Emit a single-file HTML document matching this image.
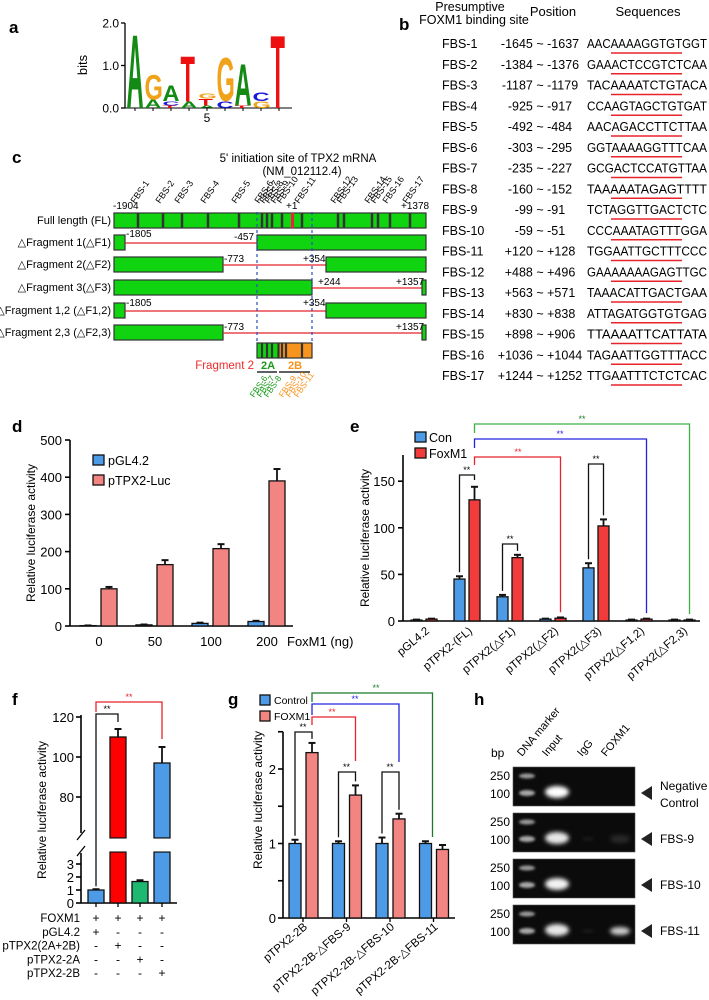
<!DOCTYPE html>
<html><head><meta charset="utf-8"><style>
html,body{margin:0;padding:0;background:#fff}
svg{display:block;font-family:"Liberation Sans",Arial,sans-serif}
</style></head><body>
<svg id="fig" width="709" height="1000" viewBox="0 0 709 1000">
<defs>
<filter id="blur2" x="-50%" y="-50%" width="200%" height="200%"><feGaussianBlur stdDeviation="2"/></filter>
<filter id="blur1" x="-50%" y="-50%" width="200%" height="200%"><feGaussianBlur stdDeviation="1.2"/></filter>
</defs>
</svg>
<script>
// ---------- data ----------
const dCats = ['0','50','100','200'];
const dPgl = [1, 3, 7, 12];
const dPgE = [0.5, 1, 2, 2];
const dTpx = [100, 165, 208, 390];
const dTpE = [5, 12, 12, 32];
const dTicks = [0,100,200,300,400,500];

const eCats = ['pGL4.2','pTPX2-(FL)','pTPX2(△F1)','pTPX2(△F2)','pTPX2(△F3)','pTPX2(△F1,2)','pTPX2(△F2,3)'];
const eCon = [1, 45, 26, 2, 57, 1, 1];
const eConE = [0.5, 3, 2, 0.5, 5, 0.5, 0.5];
const eFox = [2, 130, 68, 3, 102, 2, 1];
const eFoxE = [0.5, 14, 3, 0.8, 7, 0.5, 0.5];
const eTicks = [0,50,100,150];

const fVals = [1, 110, 1.65, 97];
const fErr = [0.06, 4, 0.1, 8];
const fTicksUp = [80,100,120];
const fTicksLow = [0,1,2,3];

const gCats = ['pTPX2-2B','pTPX2-2B-△FBS-9','pTPX2-2B-△FBS-10','pTPX2-2B-△FBS-11'];
const gCon = [1, 1, 1, 1];
const gConE = [0.05, 0.03, 0.08, 0.03];
const gFox = [2.22, 1.65, 1.33, 0.92];
const gFoxE = [0.13, 0.13, 0.07, 0.06];
const gTicks = [0,0.5,1,1.5,2,2.5];

const fbsNames = ['FBS-1','FBS-2','FBS-3','FBS-4','FBS-5','FBS-6','FBS-7','FBS-8','FBS-9','FBS-10','FBS-11','FBS-12','FBS-13','FBS-14','FBS-15','FBS-16','FBS-17'];
const fbsPos = ['-1645 ~ -1637','-1384 ~ -1376','-1187 ~ -1179','-925 ~ -917','-492 ~ -484','-303 ~ -295','-235 ~ -227','-160 ~ -152','-99 ~ -91','-59 ~ -51','+120 ~ +128','+488 ~ +496','+563 ~ +571','+830 ~ +838','+898 ~ +906','+1036 ~ +1044','+1244 ~ +1252'];
const fbsSeq = ['AACAAAAGGTGTGGT','GAAACTCCGTCTCAA','TACAAAATCTGTACA','CCAAGTAGCTGTGAT','AACAGACCTTCTTAA','GGTAAAAGGTTTCAA','GCGACTCCATGTTAA','TAAAAATAGAGTTTT','TCTAGGTTGACTCTC','CCCAAATAGTTTGGA','TGGAATTGCTTTCCC','GAAAAAAAGAGTTGC','TAAACATTGACTGAA','ATTAGATGGTGTGAG','TTAAAATTCATTATA','TAGAATTGGTTTACC','TTGAATTTCTCTCAC'];

// ---------- helpers ----------
const NS='http://www.w3.org/2000/svg';
const svg=document.getElementById('fig');
function mk(tag, attrs, name, parent){
  const el=document.createElementNS(NS,tag);
  for(const k in attrs) el.setAttribute(k, attrs[k]);
  
  
  (parent||svg).appendChild(el);
  return el;
}
function txt(x,y,s,name,o){
  o=o||{};
  const a={x:x,y:y,'font-size':o.fs||12,fill:o.fill||'#000'};
  if(o.anchor) a['text-anchor']=o.anchor;
  if(o.bold) a['font-weight']='bold';
  if(o.italic) a['font-style']='italic';
  if(o.len){ a.textLength=o.len; a.lengthAdjust='spacingAndGlyphs'; }
  if(o.rot!==undefined) a.transform='rotate('+o.rot+' '+x+' '+y+')';
  const t=mk('text',a,name);
  t.textContent=s;
  return t;
}
function line(x1,y1,x2,y2,name,c,w,dash){
  const a={x1:x1,y1:y1,x2:x2,y2:y2,stroke:c||'#000','stroke-width':w||1.5};
  if(dash) a['stroke-dasharray']=dash;
  return mk('line',a,name);
}
function poly(pts,name,c,w){
  return mk('polyline',{points:pts.map(p=>p.join(',')).join(' '),fill:'none',stroke:c,'stroke-width':w||1.3},name);
}
function bar(x,y0,y1,w,fill,name){
  return mk('rect',{x:x,y:Math.min(y0,y1),width:w,height:Math.abs(y1-y0),fill:fill,stroke:'#111','stroke-width':1.3},name);
}
function err(cx,yTop,yErr,name){
  line(cx,yTop,cx,yErr,name,'#111',1.8);
  line(cx-3.5,yErr,cx+3.5,yErr,name+'-cap','#111',2);
}
const BLUE='#4d9be6', SALMON='#f28482', RED='#f23c3c';

// ---------- panel labels ----------
[['a',9,33],['b',399,30],['c',12,163],['d',12,432],['e',350,432],['f',12,705],['g',228,705],['h',474,705]].forEach(p=>{
  txt(p[1],p[2],p[0],'panel-label-'+p[0],{fs:17,bold:true});
});

// ---------- panel a: logo ----------
(function(){
  const y0=108, ppb=42.5;
  line(125,23,125,108,'logo-y-axis','#000',1.3);
  [[0,'0.0'],[1,'1.0'],[2,'2.0']].forEach(t=>{
    const y=y0-t[0]*ppb;
    line(121,y,125,y,'logo-y-tick','#000',1.3);
    txt(119,y+4.5,t[1],'logo-y-tick-label',{fs:12,anchor:'end'});
  });
  txt(87,65,'bits','logo-y-axis-title',{fs:13,anchor:'middle',rot:-90});
  line(125,108,292,108,'logo-x-axis','#000',1);
  const cols=[
    [['A',1.78]],
    [['A',0.2],['G',0.6]],
    [['T',0.06],['C',0.1],['A',0.38]],
    [['A',0.15],['T',1.1]],
    [['A',0.06],['T',0.16],['G',0.13]],
    [['C',0.16],['G',1.05]],
    [['T',0.06],['A',1.0]],
    [['G',0.16],['C',0.2]],
    [['T',1.76]]
  ];
  const col={A:'#138a13',G:'#f0a21a',T:'#ee1010',C:'#1a1adc'};
  cols.forEach((stack,i)=>{
    const cx=135+i*18;
    line(cx,108,cx,111,'logo-x-tick','#000',1);
    let y=y0;
    stack.forEach(l=>{
      const h=l[1]*ppb, w=17;
      const sx=w/7.2, sy=h/7.2;
      const t=mk('text',{x:0,y:0,'font-size':10,'font-weight':'bold',fill:col[l[0]],
        transform:'translate('+(cx-w/2)+','+y+') scale('+sx+','+sy+')'},'logo-letter-'+l[0]);
      t.textContent=l[0];
      y-=h;
    });
  });
  txt(207,122,'5','logo-x-tick-label',{fs:12,anchor:'middle'});
})();

// ---------- panel b: table ----------
(function(){
  txt(470,11,'Presumptive','table-header-site-1',{fs:12.5,anchor:'middle'});
  txt(474,24,'FOXM1 binding site','table-header-site-2',{fs:12.5,anchor:'middle'});
  txt(553,16,'Position','table-header-position',{fs:13,anchor:'middle'});
  txt(648,16,'Sequences','table-header-sequences',{fs:13,anchor:'middle'});
  fbsNames.forEach((n,i)=>{
    const y=48+i*20.75;
    txt(442,y,n,'fbs-name',{fs:12.5});
    txt(540,y,fbsPos[i],'fbs-position',{fs:12.5,anchor:'middle'});
    txt(587,y,fbsSeq[i],'fbs-sequence',{fs:12.5,len:120});
    line(611,y+5,682,y+5,'fbs-underline','#e8232a',1.5);
  });
})();

// ---------- panel c: constructs ----------
(function(){
  txt(298,162,"5' initiation site of TPX2 mRNA",'tss-title',{fs:11.5,anchor:'middle'});
  txt(302,175,'(NM_012112.4)','tss-accession',{fs:11.5,anchor:'middle'});
  const rows=[['Full length (FL)',213],['△Fragment 1(△F1)',235],['△Fragment 2(△F2)',257],['△Fragment 3(△F3)',280],['△Fragment 1,2 (△F1,2)',303],['△Fragment 2,3 (△F2,3)',325]];
  rows.forEach(r=>txt(111,r[1]+11,r[0],'construct-label',{fs:11,anchor:'end'}));
  const G='#11d411';
  function gb(x1,x2,y){mk('rect',{x:x1,y:y,width:x2-x1,height:15,fill:G,stroke:'#333','stroke-width':1.2},'construct-segment');}
  function rl(x1,x2,y){line(x1,y+8,x2,y+8,'deleted-region','#e8232a',1.3);}
  gb(114,426,213);
  [138,163,182,208,239,262,267,272,282,302,338,344,372,378,390,410].forEach(x=>line(x,213,x,228,'fbs-marker','#333',2.5));
  mk('rect',{x:291,y:213,width:3,height:15,fill:'#e8233a'},'tss-marker');
  const fl=[['FBS-1',138],['FBS-2',163],['FBS-3',182],['FBS-4',208],['FBS-5',239],['FBS-6',262],['FBS-7',267],['FBS-8',272],['FBS-9',278],['FBS-10',284],['FBS-11',302],['FBS-12',338],['FBS-13',344],['FBS-14',372],['FBS-15',378],['FBS-16',390],['FBS-17',410]];
  fl.forEach(f=>txt(f[1]-3,204,f[0],'fbs-site-label',{fs:9,rot:-55}));
  txt(113,209,'-1904','coord-label',{fs:10});
  txt(286,209,'+1','coord-label',{fs:10});
  txt(401,209,'+1378','coord-label',{fs:10});
  gb(114,125,235); rl(125,257,235); gb(257,426,235);
  txt(126,237,'-1805','coord-label',{fs:10}); txt(234,240,'-457','coord-label',{fs:10});
  gb(114,223,257); rl(223,326,257); gb(326,426,257);
  txt(224,262,'-773','coord-label',{fs:10}); txt(303,262,'+354','coord-label',{fs:10});
  gb(114,312,280); rl(312,422,280); gb(422,426,280);
  txt(318,285,'+244','coord-label',{fs:10}); txt(396,285,'+1357','coord-label',{fs:10});
  gb(114,125,303); rl(125,326,303); gb(326,426,303);
  txt(126,306,'-1805','coord-label',{fs:10}); txt(303,306,'+354','coord-label',{fs:10});
  gb(114,223,325); rl(223,422,325); gb(422,426,325);
  txt(224,330,'-773','coord-label',{fs:10}); txt(396,330,'+1357','coord-label',{fs:10});
  line(257,212,257,342,'fragment2-boundary','#2a4fb8',1.2,'3,3');
  line(312,212,312,342,'fragment2-boundary','#2a4fb8',1.2,'3,3');
  mk('rect',{x:257,y:343,width:21,height:15,fill:G,stroke:'#333','stroke-width':1.2},'fragment-2a');
  mk('rect',{x:279,y:343,width:33,height:15,fill:'#f7941d',stroke:'#333','stroke-width':1.2},'fragment-2b');
  [262,267,272,282,286,302].forEach(x=>line(x,343,x,358,'fragment-fbs-marker','#333',2.2));
  txt(254,369,'Fragment 2','fragment2-label',{fs:11.5,fill:'#ee2a2a',anchor:'end'});
  txt(268,369,'2A','fragment-2a-label',{fs:11,bold:true,fill:'#1a9a1a',anchor:'middle'});
  txt(295,369,'2B','fragment-2b-label',{fs:11,bold:true,fill:'#f7941d',anchor:'middle'});
  line(257,372,277,372,'fragment-2a-bar','#000',1.2); line(279,372,310,372,'fragment-2b-bar','#000',1.2);
  [['FBS-6',254,'#1a9a1a'],['FBS-7',261,'#1a9a1a'],['FBS-8',268,'#1a9a1a'],['FBS-9',283,'#f7941d'],['FBS-10',290,'#f7941d'],['FBS-11',298,'#f7941d']].forEach(f=>{
    txt(f[1],398,f[0],'fragment-fbs-label',{fs:8.5,fill:f[2],rot:-55});
  });
})();

// ---------- panel d ----------
(function(){
  const yD=v=>626-v*0.372;
  const cx=i=>99+i*56;
  line(70,yD(500),70,626,'d-y-axis','#000',1.6);
  line(70,626,293,626,'d-x-axis','#000',1.6);
  dTicks.forEach(t=>{ line(65,yD(t),70,yD(t),'d-y-tick','#000',1.6); txt(62,yD(t)+5,String(t),'d-y-tick-label',{fs:13,anchor:'end'}); });
  txt(35,533,'Relative luciferase activity','d-y-axis-title',{fs:12,anchor:'middle',rot:-90});
  dCats.forEach((c,i)=>{
    const x=cx(i);
    err(x-11,yD(dPgl[i]),yD(dPgl[i]+dPgE[i]),'d-error-pgl');
    bar(x-19,626,yD(dPgl[i]),16,BLUE,'d-bar-pgl4.2');
    err(x+10,yD(dTpx[i]),yD(dTpx[i]+dTpE[i]),'d-error-ptpx2');
    bar(x+2,626,yD(dTpx[i]),16,SALMON,'d-bar-ptpx2-luc');
    txt(x,646,c,'d-x-tick-label',{fs:13,anchor:'middle'});
  });
  txt(287,646,'FoxM1 (ng)','d-x-axis-title',{fs:13});
  mk('rect',{x:93,y:455,width:11,height:10,fill:BLUE,stroke:'#111','stroke-width':1.3},'d-legend-swatch-pgl4.2');
  txt(108,465,'pGL4.2','d-legend-label-pgl4.2',{fs:12.5});
  mk('rect',{x:93,y:475,width:11,height:10,fill:SALMON,stroke:'#111','stroke-width':1.3},'d-legend-swatch-ptpx2');
  txt(108,485,'pTPX2-Luc','d-legend-label-ptpx2',{fs:12.5});
})();

// ---------- panel e ----------
(function(){
  const yE=v=>621-v*0.932;
  const cx=i=>424+i*43;
  line(403,455,403,621,'e-y-axis','#000',1.6);
  line(403,621,700,621,'e-x-axis','#000',1.6);
  eTicks.forEach(t=>{ line(398,yE(t),403,yE(t),'e-y-tick','#000',1.6); txt(395,yE(t)+5,String(t),'e-y-tick-label',{fs:13,anchor:'end'}); });
  txt(369,538,'Relative luciferase activity','e-y-axis-title',{fs:12,anchor:'middle',rot:-90});
  eCats.forEach((c,i)=>{
    const x=cx(i);
    err(x-7.5,yE(eCon[i]),yE(eCon[i]+eConE[i]),'e-error-con');
    bar(x-13,621,yE(eCon[i]),11,BLUE,'e-bar-con');
    err(x+7.5,yE(eFox[i]),yE(eFox[i]+eFoxE[i]),'e-error-foxm1');
    bar(x+2,621,yE(eFox[i]),11,RED,'e-bar-foxm1');
    txt(x+6,632,c,'e-x-tick-label',{fs:11.5,anchor:'end',rot:-40});
  });
  mk('rect',{x:415,y:432,width:11,height:10,fill:BLUE,stroke:'#111','stroke-width':1.3},'e-legend-swatch-con');
  txt(429,442,'Con','e-legend-label-con',{fs:12.5});
  mk('rect',{x:415,y:448,width:11,height:10,fill:RED,stroke:'#111','stroke-width':1.3},'e-legend-swatch-foxm1');
  txt(429,458,'FoxM1','e-legend-label-foxm1',{fs:12.5});
  const fx=cx(1)+7.5;
  poly([[cx(1)-7.5,yE(eCon[1]+eConE[1])-4],[cx(1)-7.5,475],[fx,475],[fx,480]],'e-bracket-fl','#111');
  txt((cx(1)+fx)/2-4,473,'**','e-sig-fl',{fs:9,anchor:'middle'});
  poly([[cx(2)-7.5,yE(eCon[2]+eConE[2])-4],[cx(2)-7.5,544],[cx(2)+7.5,544],[cx(2)+7.5,yE(eFox[2]+eFoxE[2])-4]],'e-bracket-f1','#111');
  txt(cx(2),542,'**','e-sig-f1',{fs:9,anchor:'middle'});
  poly([[cx(4)-7.5,yE(eCon[4]+eConE[4])-4],[cx(4)-7.5,464],[cx(4)+7.5,464],[cx(4)+7.5,yE(eFox[4]+eFoxE[4])-4]],'e-bracket-f3','#111');
  txt(cx(4),462,'**','e-sig-f3',{fs:9,anchor:'middle'});
  poly([[fx,465],[fx,457],[cx(3)+7.5,457],[cx(3)+7.5,yE(eFox[3])-6]],'e-bracket-f2','#e8232a');
  txt(518,455,'**','e-sig-f2',{fs:9,anchor:'middle',fill:'#e8232a'});
  poly([[fx,448],[fx,439],[cx(5)+7.5,439],[cx(5)+7.5,yE(eFox[5])-6]],'e-bracket-f12','#2424e0');
  txt(560,437,'**','e-sig-f12',{fs:9,anchor:'middle',fill:'#2424e0'});
  poly([[fx,433],[fx,424],[cx(6)+7.5,424],[cx(6)+7.5,yE(eFox[6])-6]],'e-bracket-f23','#3cb043');
  txt(582,422,'**','e-sig-f23',{fs:9,anchor:'middle',fill:'#1a7a2a'});
})();

// ---------- panel f ----------
(function(){
  const yU=v=>717+(120-v)*2;
  const yL=v=>903-v*13;
  const cols=[BLUE,'#ff0000','#1fb870',BLUE];
  const cx=i=>96+i*22;
  line(81,715,81,833,'f-y-axis-upper','#000',1.6);
  line(81,853,81,903,'f-y-axis-lower','#000',1.6);
  line(77,840,85,830,'f-axis-break','#000',1.3); line(77,856,85,846,'f-axis-break','#000',1.3);
  line(81,903,177,903,'f-x-axis','#000',1.6);
  fTicksUp.forEach(t=>{ line(76,yU(t),81,yU(t),'f-y-tick','#000',1.6); txt(74,yU(t)+5,String(t),'f-y-tick-label',{fs:13,anchor:'end'}); });
  fTicksLow.forEach(t=>{ line(76,yL(t),81,yL(t),'f-y-tick','#000',1.6); txt(74,yL(t)+5,String(t),'f-y-tick-label',{fs:13,anchor:'end'}); });
  txt(46,810,'Relative luciferase activity','f-y-axis-title',{fs:12,anchor:'middle',rot:-90});
  fVals.forEach((v,i)=>{
    const x=cx(i);
    if(v>3){
      err(x,yU(v),yU(v+fErr[i]),'f-error');
      mk('rect',{x:x-8,y:yU(v),width:16,height:838-yU(v),fill:cols[i],stroke:'#111','stroke-width':1.3},'f-bar-upper');
      mk('rect',{x:x-8,y:852,width:16,height:51,fill:cols[i],stroke:'#111','stroke-width':1.3},'f-bar-lower');
      mk('rect',{x:x-9,y:838.7,width:18,height:12.6,fill:'#fff'},'f-bar-break-gap');
    } else {
      err(x,yL(v),yL(v+fErr[i]),'f-error');
      bar(x-8,903,yL(v),16,cols[i],'f-bar');
    }
    line(x,903,x,907,'f-x-tick','#000',1.3);
  });
  const labs=['FOXM1','pGL4.2','pTPX2(2A+2B)','pTPX2-2A','pTPX2-2B'];
  const signs=[['+','+','+','+'],['+','-','-','-'],['-','+','-','-'],['-','-','+','-'],['-','-','-','+']];
  labs.forEach((l,r)=>{
    const y=922+r*13.8;
    txt(80,y,l,'f-condition-label',{fs:11.5,anchor:'end'});
    signs[r].forEach((s,i)=>txt(cx(i),y,s,'f-condition-sign',{fs:12,anchor:'middle'}));
  });
  poly([[cx(0),yL(fVals[0]+fErr[0])-3],[cx(0),714],[cx(1),714],[cx(1),722]],'f-bracket-black','#111');
  txt(107,712,'**','f-sig-black',{fs:9,anchor:'middle'});
  poly([[cx(0),712],[cx(0),702],[cx(3),702],[cx(3),739]],'f-bracket-red','#e8232a');
  txt(129,700,'**','f-sig-red',{fs:9,anchor:'middle',fill:'#e8232a'});
})();

// ---------- panel g ----------
(function(){
  const yG=v=>918-v*74.5;
  const cx=i=>303+i*43.5;
  line(283,yG(2.5),283,918,'g-y-axis','#000',1.6);
  line(283,918,455,918,'g-x-axis','#000',1.6);
  gTicks.forEach(t=>{
    line(278,yG(t),283,yG(t),'g-y-tick','#000',1.6);
    if(Number.isInteger(t)) txt(276,yG(t)+5,String(t),'g-y-tick-label',{fs:13,anchor:'end'});
  });
  txt(262,800,'Relative luciferase activity','g-y-axis-title',{fs:12,anchor:'middle',rot:-90});
  gCats.forEach((c,i)=>{
    const x=cx(i);
    err(x-8,yG(gCon[i]),yG(gCon[i]+gConE[i]),'g-error-control');
    bar(x-14,918,yG(gCon[i]),12,BLUE,'g-bar-control');
    err(x+9,yG(gFox[i]),yG(gFox[i]+gFoxE[i]),'g-error-foxm1');
    bar(x+3,918,yG(gFox[i]),12,SALMON,'g-bar-foxm1');
    line(x,918,x,922,'g-x-tick','#000',1.3);
    txt(x+5,928,c,'g-x-tick-label',{fs:11.5,anchor:'end',rot:-40});
  });
  mk('rect',{x:260,y:695,width:10,height:10,fill:BLUE,stroke:'#111','stroke-width':1.3},'g-legend-swatch-control');
  txt(274,704,'Control','g-legend-label-control',{fs:10.5});
  mk('rect',{x:260,y:711,width:10,height:10,fill:SALMON,stroke:'#111','stroke-width':1.3},'g-legend-swatch-foxm1');
  txt(274,720,'FOXM1','g-legend-label-foxm1',{fs:10.5});
  const fx=cx(0)+9;
  [0,1,2].forEach(i=>{
    const top=i===0?732:772;
    poly([[cx(i)-8,yG(gCon[i]+gConE[i])-4],[cx(i)-8,top],[cx(i)+9,top],[cx(i)+9,yG(gFox[i]+gFoxE[i])-4]],'g-bracket-black','#111');
    txt(cx(i),top-2,'**','g-sig-black',{fs:9,anchor:'middle'});
  });
  poly([[fx,725],[fx,717],[cx(1)+9,717],[cx(1)+9,761]],'g-bracket-red','#e8232a');
  txt(332,715,'**','g-sig-red',{fs:9,anchor:'middle',fill:'#e8232a'});
  poly([[fx,715],[fx,704],[cx(2)+9,704],[cx(2)+9,762]],'g-bracket-blue','#2424e0');
  txt(355,702,'**','g-sig-blue',{fs:9,anchor:'middle',fill:'#2424e0'});
  poly([[fx,702],[fx,693],[cx(3)-1,693],[cx(3)-1,837]],'g-bracket-green','#1a7a2a');
  txt(376,691,'**','g-sig-green',{fs:9,anchor:'middle',fill:'#1a7a2a'});
})();

// ---------- panel h: gels ----------
(function(){
  txt(491,757,'bp','h-bp-label',{fs:12});
  [['DNA marker',522],['Input',547],['IgG',582],['FOXM1',606]].forEach(c=>{
    txt(c[1],757,c[0],'h-lane-header',{fs:11,rot:-50});
  });
  const gels=[[767,'Negative','Control',[1,0,0]],[813,'FBS-9',null,[0.9,0.05,0.12]],[859,'FBS-10',null,[0.95,0,0]],[905,'FBS-11',null,[0.9,0.05,0.8]]];
  gels.forEach((g,k)=>{
    const y=g[0];
    mk('rect',{x:513,y:y,width:122,height:39,fill:'#0b0b0b',stroke:'#555','stroke-width':0.6},'gel-image');
    const b1=y+9, b2=y+26;
    mk('ellipse',{cx:527,cy:b1,rx:8,ry:2.5,fill:'#9a9a9a',filter:'url(#blur1)'},'gel-marker-band-250');
    mk('ellipse',{cx:527,cy:b2,rx:8,ry:3,fill:'#a8a8a8',filter:'url(#blur1)'},'gel-marker-band-100');
    const iv=g[3];
    mk('ellipse',{cx:557,cy:b2-1,rx:12,ry:6,fill:'rgb(255,255,255)','fill-opacity':iv[0],filter:'url(#blur2)'},'gel-input-band');
    if(iv[1]>0) mk('ellipse',{cx:588,cy:b2,rx:6,ry:2,fill:'#fff','fill-opacity':iv[1],filter:'url(#blur1)'},'gel-igg-band');
    if(iv[2]>0) mk('ellipse',{cx:620,cy:b2,rx:10,ry:4,fill:'#fff','fill-opacity':iv[2],filter:'url(#blur2)'},'gel-foxm1-band');
    txt(510,y+13,'250','h-size-250',{fs:12,anchor:'end'});
    txt(510,y+31,'100','h-size-100',{fs:12,anchor:'end'});
    mk('polygon',{points:'641,'+b2+' 652,'+(b2-7)+' 652,'+(b2+7),fill:'#222'},'h-arrow');
    if(g[2]){
      txt(660,b2-3,g[1],'h-target-label',{fs:12});
      txt(660,b2+14,g[2],'h-target-label',{fs:12});
    } else txt(660,b2+4,g[1],'h-target-label',{fs:12});
  });
})();
</script>
</body></html>
